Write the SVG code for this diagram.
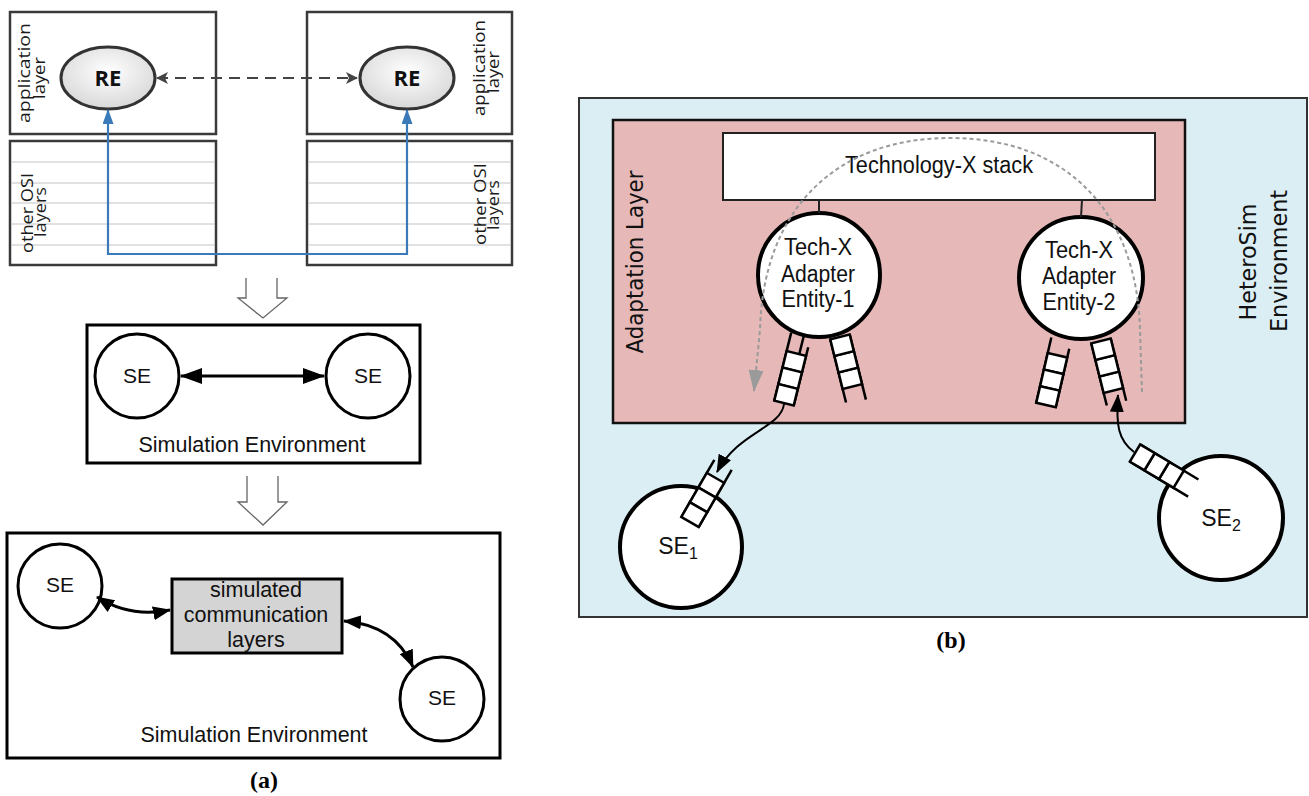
<svg xmlns="http://www.w3.org/2000/svg" width="1309" height="796" viewBox="0 0 1309 796">
  <defs>
    <style>
      .box{fill:#fff;stroke:#3a3a3a;stroke-width:2.5}
      .stripe{stroke:#c4c4c4;stroke-width:1}
      .re{fill:url(#reGrad);stroke:#333;stroke-width:3}
      .reTxt{font-family:"Open Sans","Liberation Sans",sans-serif;font-weight:bold;font-size:22px;fill:#111;text-anchor:middle}
      .rot{font-family:"Open Sans","DejaVu Sans",sans-serif;font-size:16.5px;fill:#1a1a1a;text-anchor:middle}
      .frame{fill:#fff;stroke:#000;stroke-width:3}
      .se{fill:#fff;stroke:#000;stroke-width:3}
      .ar{font-family:"Liberation Sans",Arial,sans-serif;fill:#111;text-anchor:middle}
      .hollow{fill:#fff;stroke:#666;stroke-width:1.3}
      .link{fill:none;stroke:#000;stroke-width:3}
      .cap{font-family:"Liberation Serif","Times New Roman",serif;font-weight:bold;font-size:24px;fill:#000;text-anchor:middle}
      .env{fill:#dbeef4;stroke:#333;stroke-width:2}
      .adapt{fill:#e6b9b8;stroke:#111;stroke-width:2.5}
      .stack{fill:#fff;stroke:#222;stroke-width:2}
      .ent{fill:#fff;stroke:#000;stroke-width:4}
      .bTxt{font-family:"Liberation Sans",Arial,sans-serif;font-size:23px;fill:#111;text-anchor:middle}
      .bRot{font-family:"DejaVu Sans","Liberation Sans",sans-serif;font-size:23px;fill:#111;text-anchor:middle}
      .q line{stroke:#000;stroke-width:2.5}
      .flow{fill:none;stroke:#000;stroke-width:2}
      .trace{fill:none;stroke:#9a9a9a;stroke-width:2;stroke-dasharray:4 3}
    </style>
    <radialGradient id="reGrad" cx="50%" cy="40%" r="60%">
      <stop offset="0" stop-color="#ffffff"/>
      <stop offset="1" stop-color="#d8d8d8"/>
    </radialGradient>
    <marker id="mBig" markerUnits="userSpaceOnUse" viewBox="0 0 22 16" refX="21" refY="8" markerWidth="22" markerHeight="16" orient="auto-start-reverse">
      <path d="M0,0 L22,8 L0,16 z" fill="#000"/>
    </marker>
    <marker id="mMid" markerUnits="userSpaceOnUse" viewBox="0 0 18 14" refX="17" refY="7" markerWidth="18" markerHeight="14" orient="auto-start-reverse">
      <path d="M0,0 L18,7 L0,14 z" fill="#000"/>
    </marker>
    <marker id="mDash" markerUnits="userSpaceOnUse" viewBox="0 0 12 12" refX="11" refY="6" markerWidth="12" markerHeight="12" orient="auto-start-reverse">
      <path d="M0,0 L12,6 L0,12 L3,6 z" fill="#444"/>
    </marker>
    <marker id="mBlue" markerUnits="userSpaceOnUse" viewBox="0 0 15 11" refX="14" refY="5.5" markerWidth="15" markerHeight="11" orient="auto-start-reverse">
      <path d="M0,0 L15,5.5 L0,11 z" fill="#3b7ab8"/>
    </marker>
    <marker id="mGray" markerUnits="userSpaceOnUse" viewBox="0 0 22 15" refX="21" refY="7.5" markerWidth="22" markerHeight="15" orient="auto">
      <path d="M0,0 L22,7.5 L0,15 z" fill="#9a9a9a"/>
    </marker>
    <!-- three queue cells, closed end at y=0 -->
    <g id="cells" fill="#fff" stroke="#000" stroke-width="2.5">
      <rect x="-10" y="-51" width="20" height="17"/>
      <rect x="-10" y="-34" width="20" height="17"/>
      <rect x="-10" y="-17" width="20" height="17"/>
    </g>
  </defs>

  <rect width="1309" height="796" fill="#fff"/>

  <!-- ===== (a) top: real protocol stacks ===== -->
  <g id="stackLeft">
    <rect class="box" x="10" y="12" width="206" height="122"/>
    <rect class="box" x="10" y="141" width="206" height="124"/>
    <line class="stripe" x1="11" y1="162" x2="215" y2="162"/>
    <line class="stripe" x1="11" y1="183" x2="215" y2="183"/>
    <line class="stripe" x1="11" y1="203" x2="215" y2="203"/>
    <line class="stripe" x1="11" y1="224" x2="215" y2="224"/>
    <line class="stripe" x1="11" y1="245" x2="215" y2="245"/>
    <text class="rot" transform="translate(30,73) rotate(-90)" textLength="100" lengthAdjust="spacingAndGlyphs">application</text>
    <text class="rot" transform="translate(45,78) rotate(-90)" textLength="42" lengthAdjust="spacingAndGlyphs">layer</text>
    <text class="rot" transform="translate(33,213) rotate(-90)" textLength="80" lengthAdjust="spacingAndGlyphs">other OSI</text>
    <text class="rot" transform="translate(46,212) rotate(-90)" textLength="50" lengthAdjust="spacingAndGlyphs">layers</text>
  </g>
  <g id="stackRight">
    <rect class="box" x="307" y="12" width="205" height="122"/>
    <rect class="box" x="307" y="141" width="205" height="124"/>
    <line class="stripe" x1="308" y1="162" x2="511" y2="162"/>
    <line class="stripe" x1="308" y1="183" x2="511" y2="183"/>
    <line class="stripe" x1="308" y1="203" x2="511" y2="203"/>
    <line class="stripe" x1="308" y1="224" x2="511" y2="224"/>
    <line class="stripe" x1="308" y1="245" x2="511" y2="245"/>
    <text class="rot" transform="translate(485,68) rotate(-90)" textLength="96" lengthAdjust="spacingAndGlyphs">application</text>
    <text class="rot" transform="translate(499,72) rotate(-90)" textLength="42" lengthAdjust="spacingAndGlyphs">layer</text>
    <text class="rot" transform="translate(486,204) rotate(-90)" textLength="82" lengthAdjust="spacingAndGlyphs">other OSI</text>
    <text class="rot" transform="translate(499,205) rotate(-90)" textLength="50" lengthAdjust="spacingAndGlyphs">layers</text>
  </g>
  <g id="reLeft">
    <ellipse class="re" cx="108" cy="78" rx="47" ry="31"/>
    <text class="reTxt" x="108" y="86">RE</text>
  </g>
  <g id="reRight">
    <ellipse class="re" cx="407" cy="78" rx="47" ry="31"/>
    <text class="reTxt" x="407" y="86">RE</text>
  </g>

  <!-- hollow transition arrows -->
  <g id="stepArrow1">
    <path class="hollow" d="M246,278 V298 H238 L263,318 L287,298 H277 V278"/>
  </g>
  <g id="stepArrow2">
    <path class="hollow" d="M247,476 V502 H238 L263,525 L287,502 H278 V476"/>
  </g>

  <!-- ===== (a) middle: direct simulated entities ===== -->
  <g id="simEnv1">
    <rect class="frame" x="87" y="325" width="333" height="138"/>
    <text class="ar" x="252" y="452" font-size="21.5">Simulation Environment</text>
  </g>
  <g id="se1a">
    <circle class="se" cx="137" cy="376" r="42"/>
    <text class="ar" x="137" y="383" font-size="21">SE</text>
  </g>
  <g id="se2a">
    <circle class="se" cx="368" cy="376" r="42"/>
    <text class="ar" x="368" y="383" font-size="21">SE</text>
  </g>

  <!-- ===== (a) bottom: simulated communication layers ===== -->
  <g id="simEnv2">
    <rect class="frame" x="7" y="533" width="493" height="225"/>
    <text class="ar" x="254" y="742" font-size="21.5">Simulation Environment</text>
  </g>
  <g id="se3a">
    <circle class="se" cx="60" cy="586" r="42"/>
    <text class="ar" x="60" y="592" font-size="21">SE</text>
  </g>
  <g id="se4a">
    <circle class="se" cx="442" cy="699" r="42"/>
    <text class="ar" x="442" y="705" font-size="21">SE</text>
  </g>
  <g id="simLayers">
    <rect x="172" y="579" width="170" height="74" fill="#d4d4d4" stroke="#000" stroke-width="3"/>
    <text class="ar" x="256" y="597" font-size="21.5">simulated</text>
    <text class="ar" x="256" y="622" font-size="21.5">communication</text>
    <text class="ar" x="256" y="647" font-size="21.5">layers</text>
  </g>

  <text class="cap" x="264" y="788">(a)</text>

  <!-- ===== (b) HeteroSim environment ===== -->
  <g id="heteroSimEnv">
    <rect class="env" x="579" y="98" width="728" height="519"/>
    <text class="bRot" transform="translate(1256,262) rotate(-90)" textLength="117" lengthAdjust="spacingAndGlyphs">HeteroSim</text>
    <text class="bRot" transform="translate(1287,261) rotate(-90)" textLength="142" lengthAdjust="spacingAndGlyphs">Environment</text>
  </g>
  <g id="adaptationLayer">
    <rect class="adapt" x="613" y="120" width="572" height="303"/>
    <text class="bRot" transform="translate(643,262) rotate(-90)" textLength="183" lengthAdjust="spacingAndGlyphs">Adaptation Layer</text>
  </g>
  <g id="techStack">
    <rect class="stack" x="723" y="133" width="432" height="67"/>
    <text class="bTxt" x="939" y="173" textLength="188" lengthAdjust="spacingAndGlyphs">Technology-X stack</text>
  </g>
  <g id="adapter1">
    <ellipse class="ent" cx="819" cy="275" rx="61" ry="62"/>
    <text class="bTxt" x="818" y="255" textLength="68" lengthAdjust="spacingAndGlyphs">Tech-X</text>
    <text class="bTxt" x="818" y="282" textLength="74" lengthAdjust="spacingAndGlyphs">Adapter</text>
    <text class="bTxt" x="818" y="307" textLength="73" lengthAdjust="spacingAndGlyphs">Entity-1</text>
  </g>
  <g id="adapter2">
    <ellipse class="ent" cx="1081" cy="278" rx="62" ry="61"/>
    <text class="bTxt" x="1079" y="258" textLength="68" lengthAdjust="spacingAndGlyphs">Tech-X</text>
    <text class="bTxt" x="1079" y="284" textLength="74" lengthAdjust="spacingAndGlyphs">Adapter</text>
    <text class="bTxt" x="1079" y="310" textLength="73" lengthAdjust="spacingAndGlyphs">Entity-2</text>
  </g>

  <!-- queues (closed end at local origin, open end toward local -y) -->
  <g id="queueA1" class="q" transform="translate(784,403) rotate(14)">
    <line x1="-10" y1="0" x2="-10" y2="-70"/>
    <line x1="10" y1="0" x2="10" y2="-60"/>
    <line x1="3" y1="-51" x2="3" y2="-70"/>
    <use href="#cells"/>
  </g>
  <g id="queueB1" class="q" transform="translate(840,337) rotate(166)">
    <line x1="-10" y1="0" x2="-10" y2="-67"/>
    <line x1="10" y1="0" x2="10" y2="-65"/>
    <use href="#cells"/>
  </g>
  <g id="queueA2" class="q" transform="translate(1046,405) rotate(13)">
    <line x1="-10" y1="0" x2="-10" y2="-67"/>
    <line x1="10" y1="0" x2="10" y2="-60"/>
    <use href="#cells"/>
  </g>
  <g id="queueB2" class="q" transform="translate(1101,341) rotate(166)">
    <line x1="-10" y1="0" x2="-10" y2="-64"/>
    <line x1="10" y1="0" x2="10" y2="-64"/>
    <use href="#cells"/>
  </g>

  <g id="se1b">
    <circle class="ent" cx="681" cy="547" r="61"/>
    <text class="ar" x="678" y="554" font-size="23">SE<tspan font-size="16" dy="5">1</tspan></text>
  </g>
  <g id="se2b">
    <circle class="ent" cx="1221" cy="518" r="62"/>
    <text class="ar" x="1221" y="526" font-size="23">SE<tspan font-size="16" dy="5">2</tspan></text>
  </g>
  <g id="queueSE1" class="q" transform="translate(690,522) rotate(30)">
    <line x1="-10" y1="0" x2="-10" y2="-66"/>
    <line x1="10" y1="0" x2="10" y2="-66"/>
    <use href="#cells"/>
  </g>
  <g id="queueSE2" class="q" transform="translate(1135,453) rotate(121)">
    <line x1="-10" y1="0" x2="-10" y2="-68"/>
    <line x1="10" y1="0" x2="10" y2="-68"/>
    <use href="#cells"/>
  </g>

  <!-- ===== connectors ===== -->
  <g id="connectors">
    <!-- (a) top -->
    <line x1="157" y1="78" x2="357" y2="78" stroke="#444" stroke-width="1.8" stroke-dasharray="11 7" marker-start="url(#mDash)" marker-end="url(#mDash)"/>
    <path d="M108,110 V254 H407 V110" fill="none" stroke="#3b7ab8" stroke-width="2.2" marker-start="url(#mBlue)" marker-end="url(#mBlue)"/>
    <!-- (a) middle -->
    <line class="link" x1="181" y1="376" x2="324" y2="376" marker-start="url(#mBig)" marker-end="url(#mBig)"/>
    <!-- (a) bottom -->
    <path class="link" d="M97,597 Q130,618 170,610" marker-start="url(#mMid)" marker-end="url(#mMid)"/>
    <path class="link" d="M344,621 Q395,625 413,667" marker-start="url(#mMid)" marker-end="url(#mMid)"/>
    <!-- (b) stack to adapters -->
    <line x1="819" y1="200" x2="819" y2="213" stroke="#222" stroke-width="2"/>
    <line x1="1082" y1="200" x2="1081" y2="217" stroke="#222" stroke-width="2"/>
    <!-- (b) message path through the stack -->
    <path class="trace" d="M1142,392 L1140,330 C1137,215 1070,138 950,138 C835,138 763,210 760,330 L754,391" marker-end="url(#mGray)"/>
    <!-- (b) queue hand-offs -->
    <path class="flow" d="M784,404 C781,428 738,432 717,472" marker-end="url(#mMid)"/>
    <path class="flow" d="M1134,452 C1118,440 1116,425 1118,395" marker-end="url(#mMid)"/>
  </g>

  <text class="cap" x="951" y="648">(b)</text>
</svg>
